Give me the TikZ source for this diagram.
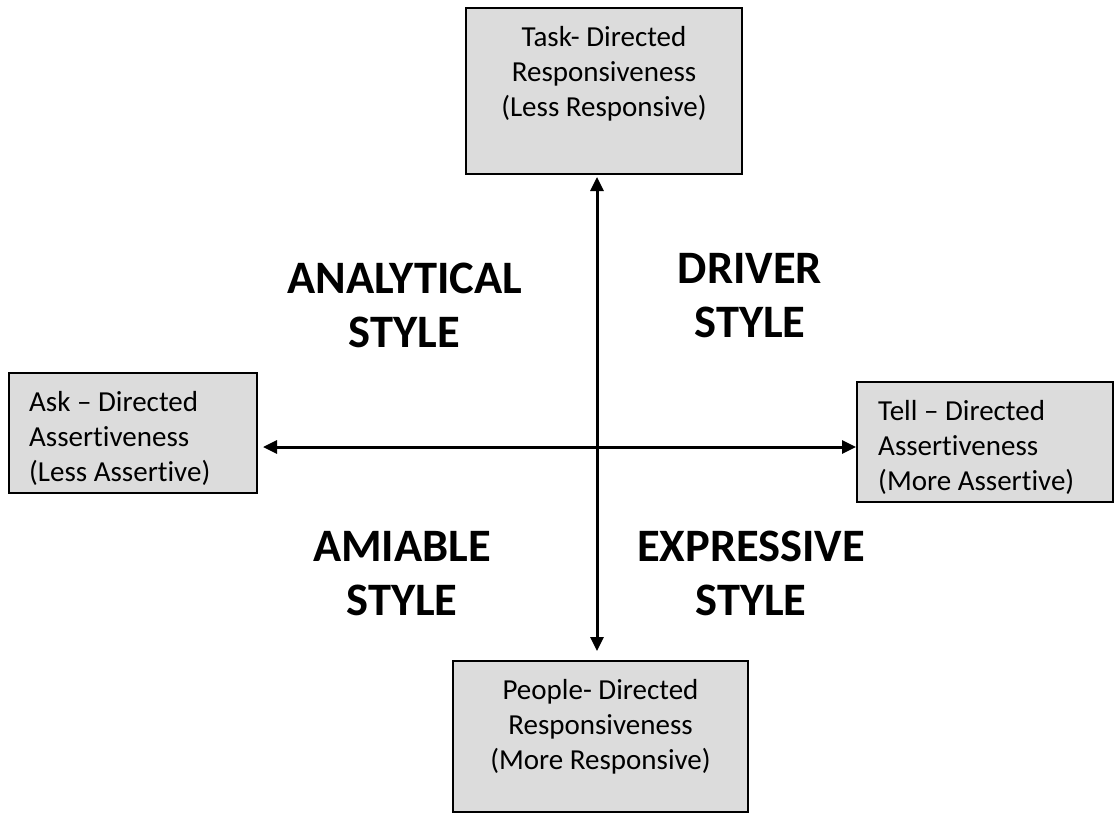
\documentclass[tikz,border=0pt]{standalone}
\usepackage{fontspec}
\setmainfont[Ligatures=NoCommon]{Carlito}
\usepackage{tikz}
\usetikzlibrary{arrows.meta}
\definecolor{boxgray}{HTML}{DCDCDC}

\begin{document}
\begin{tikzpicture}[x=1pt, y=-1pt,
        dirbox/.style={draw, line width=2pt, fill=boxgray, inner sep=0pt},
        dirtext/.style={inner sep=0pt, font=\fontsize{29}{35.4}\selectfont},
        stylelabel/.style={inner sep=0pt, align=center, anchor=north,
                           font=\fontsize{46.5}{54}\selectfont\bfseries},
        axis/.style={line width=3pt, {Triangle[length=14pt,width=13pt]}-{Triangle[length=14pt,width=13pt]}}]
        \useasboundingbox (0,0) rectangle (1118,814);

        % the four boxes
        \node (taskbox)   [dirbox, minimum width=276, minimum height=166] at (604,91)    {};
        \node (askbox)    [dirbox, minimum width=248, minimum height=120] at (133,433)   {};
        \node (tellbox)   [dirbox, minimum width=256, minimum height=120] at (985,442)   {};
        \node (peoplebox) [dirbox, minimum width=295, minimum height=151] at (600.5,736.5) {};

        \node (tasktext)   [dirtext, align=center, anchor=north] at ([yshift=-18.7]taskbox.north)
              {Task- Directed\\Responsiveness\\(Less Responsive)};
        \node (asktext)    [dirtext, align=left, anchor=north west] at ([xshift=21,yshift=-18.7]askbox.north west)
              {Ask -- Directed\\Assertiveness\\(Less Assertive)};
        \node (telltext)   [dirtext, align=left, anchor=north west] at ([xshift=22,yshift=-18.7]tellbox.north west)
              {Tell -- Directed\\Assertiveness\\(More Assertive)};
        \node (peopletext) [dirtext, align=center, anchor=north] at ([yshift=-18.7]peoplebox.north)
              {People- Directed\\Responsiveness\\(More Responsive)};

        % axes
        \coordinate (centre) at (597,447);
        \draw[axis, shorten <=5pt] (askbox.east |- centre) -- (tellbox.west |- centre);
        \draw[axis, shorten <=2pt, shorten >=9pt] (taskbox.south -| centre) -- (peoplebox.north -| centre);

        % quadrants
        \node (analytical) [stylelabel] at (404.5,263) {ANALYTICAL\\STYLE};
        \node (driver)     [stylelabel] at (750,253)   {DRIVER\\STYLE};
        \node (amiable)    [stylelabel] at (402,531)   {AMIABLE\\STYLE};
        \node (expressive) [stylelabel] at (751,531)   {EXPRESSIVE\\STYLE};
\end{tikzpicture}
\end{document}
